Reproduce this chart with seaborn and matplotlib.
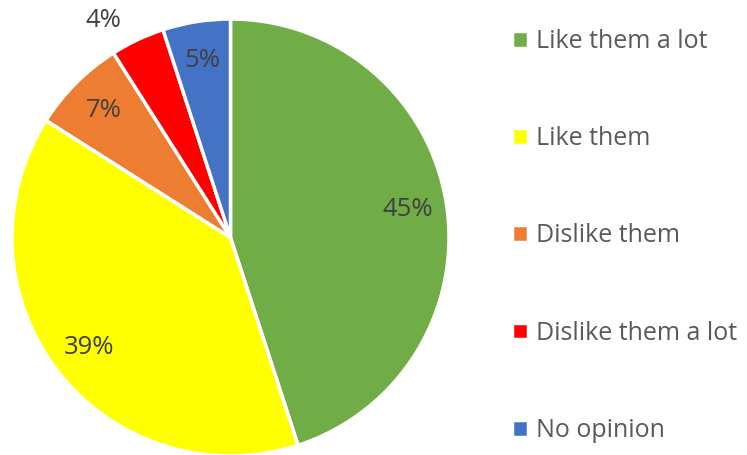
import matplotlib.pyplot as plt
import seaborn as sns
import numpy as np

labels = ["Like them a lot", "Like them", "Dislike them", "Dislike them a lot", "No opinion"]
values = [45, 39, 7, 4, 5]
colors = ["#70AD47", "#FFFF00", "#ED7D31", "#FF0000", "#4472C4"]

sns.set_style("white")
plt.rcParams['font.family'] = ['Open Sans', 'DejaVu Sans']

fig = plt.figure(figsize=(7.47, 4.55), dpi=100)
ax = fig.add_axes([12/747, -1/455, 437/747, 437/455])

wedges, texts, autotexts = ax.pie(
    values, colors=colors, startangle=90, counterclock=False,
    autopct=lambda p: f"{p:.0f}%", pctdistance=0.82,
    wedgeprops=dict(edgecolor="white", linewidth=2.5),
    textprops=dict(color="#404040", fontsize=18.5))

# small slice label sits outside the pie
w = wedges[3]
ang = np.deg2rad((w.theta1 + w.theta2) / 2 + 3)
autotexts[3].set_position((1.06 * np.cos(ang), 1.06 * np.sin(ang)))
autotexts[3].set_ha("right")
autotexts[3].set_va("bottom")

ax.set_xlim(-1, 1)
ax.set_ylim(-1, 1)
ax.set_aspect("equal")

leg = fig.legend(wedges, labels, loc="upper left", bbox_to_anchor=(502/747, 1 - 19/455),
                 frameon=False, fontsize=18, handlelength=0.65, handleheight=0.65,
                 handletextpad=0.3, labelspacing=2.89, borderaxespad=0)
for t in leg.get_texts():
    t.set_color("#595959")

fig.savefig("out.png", dpi=100)
